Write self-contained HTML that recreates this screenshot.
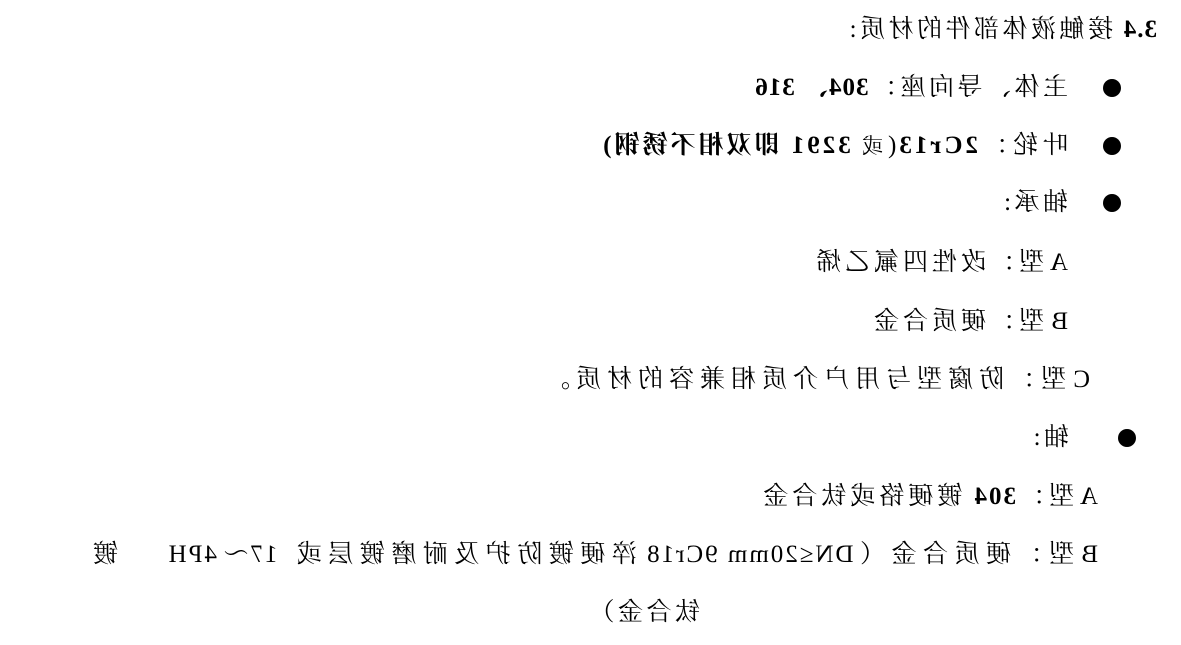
<!DOCTYPE html>
<html><head><meta charset="utf-8"><style>
html,body{margin:0;padding:0;background:#fff;}
#w{position:relative;width:1181px;height:645px;overflow:hidden;transform:scaleX(-1);transform-origin:center;}
.l{position:absolute;white-space:pre;font-family:"Liberation Serif","Noto Serif CJK SC",serif;font-size:25px;letter-spacing:5px;line-height:30px;color:#000;}
b{font-weight:bold;letter-spacing:2px;}
.e{letter-spacing:0.5px;}
.d{position:absolute;width:18px;height:18px;border-radius:50%;background:#000;}
</style></head><body><div id="w">
<div class="l" style="left:24px;top:15px;letter-spacing:3.5px"><b style="letter-spacing:1px">3.4</b> 接触液体部件的材质:</div>

<div class="d" style="left:60px;top:79px"></div>
<div class="l" style="left:113px;top:73px;letter-spacing:3.5px">主体、导向座：<b style="letter-spacing:1px">304、 316</b></div>

<div class="d" style="left:60px;top:137px"></div>
<div class="l" style="left:113px;top:131px">叶轮：<b style="letter-spacing:3px">2Cr13</b>(<span style="font-size:21px;letter-spacing:0">或</span> <b style="letter-spacing:3px">3291 即双相不锈钢)</b></div>

<div class="d" style="left:60px;top:194px"></div>
<div class="l" style="left:113px;top:188px;letter-spacing:3.5px">轴承:</div>

<div class="l" style="left:113px;top:248px;letter-spacing:4px"><span class="e">A </span>型：改性四氟乙烯</div>
<div class="l" style="left:113px;top:307px;letter-spacing:4px"><span class="e">B </span>型：硬质合金</div>
<div class="l" style="left:91px;top:365px;letter-spacing:6px"><span class="e">C </span>型：防腐型与用户介质相兼容的材质。</div>

<div class="d" style="left:45px;top:429px"></div>
<div class="l" style="left:112px;top:423px;letter-spacing:3.5px">轴:</div>

<div class="l" style="left:83px;top:482px;letter-spacing:4px"><span class="e">A </span>型：<b>304</b> 镀硬铬或钛合金</div>
<div class="l" style="left:83px;top:540px;letter-spacing:6.5px"><span class="e">B </span>型：硬质合金（<span style="letter-spacing:2px">DN≤20mm 9Cr18 </span>淬硬镀防护及耐磨镀层或 <span style="letter-spacing:2px">17</span>～<span style="letter-spacing:2px">4PH</span></div>
<div class="l" style="left:1063px;top:540px">镀</div>
<div class="l" style="left:481px;top:598px;letter-spacing:3.5px">钛合金）</div>
</div></body></html>
